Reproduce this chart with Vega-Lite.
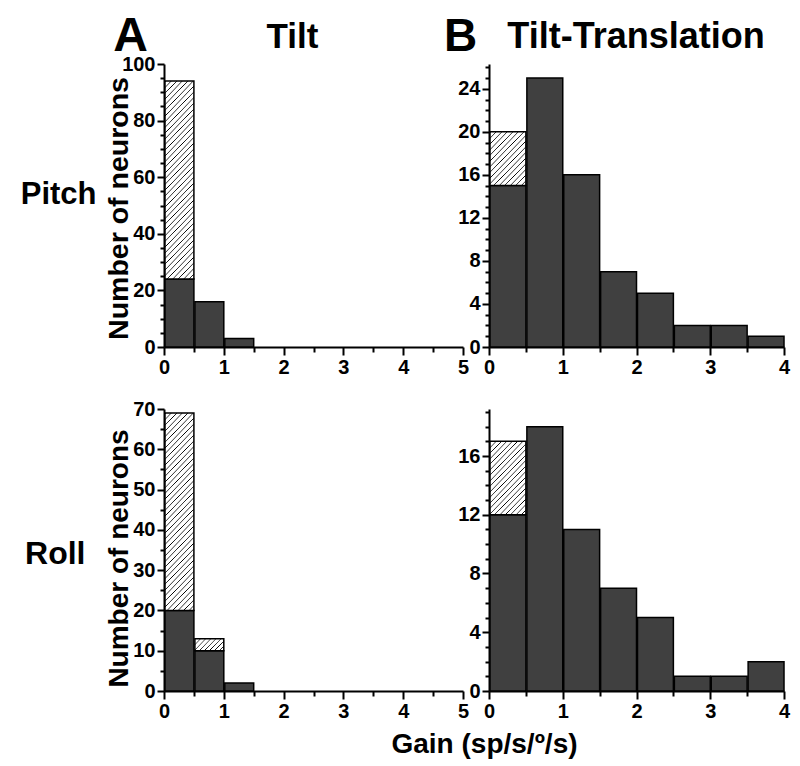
{
"$schema": "https://vega.github.io/schema/vega-lite/v6.json",
"padding": {"left": 20, "top": 12, "right": 10, "bottom": 6},
"background": "white",
"config": {
  "view": {"stroke": null},
  "font": "Liberation Sans",
  "axis": {"domainColor": "black", "domainWidth": 2, "tickColor": "black", "tickWidth": 2, "labelFontSize": 20, "labelFontWeight": "bold", "labelColor": "black", "labelFont": "Liberation Sans", "titleFont": "Liberation Sans", "titleFontWeight": "bold", "titleColor": "black", "grid": false, "labelOverlap": false, "labelPadding": 2, "labelFlush": false, "labelBound": false}
},
"datasets": {
  "tl": [{"start":0,"end":0.5,"count":24,"type":"dark"},{"start":0,"end":0.5,"count":70,"type":"hatched"},{"start":0.5,"end":1,"count":16,"type":"dark"},{"start":1,"end":1.5,"count":3,"type":"dark"}],
  "tr": [{"start":0,"end":0.5,"count":15,"type":"dark"},{"start":0,"end":0.5,"count":5,"type":"hatched"},{"start":0.5,"end":1,"count":25,"type":"dark"},{"start":1,"end":1.5,"count":16,"type":"dark"},{"start":1.5,"end":2,"count":7,"type":"dark"},{"start":2,"end":2.5,"count":5,"type":"dark"},{"start":2.5,"end":3,"count":2,"type":"dark"},{"start":3,"end":3.5,"count":2,"type":"dark"},{"start":3.5,"end":4,"count":1,"type":"dark"}],
  "bl": [{"start":0,"end":0.5,"count":20,"type":"dark"},{"start":0,"end":0.5,"count":49,"type":"hatched"},{"start":0.5,"end":1,"count":10,"type":"dark"},{"start":0.5,"end":1,"count":3,"type":"hatched"},{"start":1,"end":1.5,"count":2,"type":"dark"}],
  "br": [{"start":0,"end":0.5,"count":12,"type":"dark"},{"start":0,"end":0.5,"count":5,"type":"hatched"},{"start":0.5,"end":1,"count":18,"type":"dark"},{"start":1,"end":1.5,"count":11,"type":"dark"},{"start":1.5,"end":2,"count":7,"type":"dark"},{"start":2,"end":2.5,"count":5,"type":"dark"},{"start":2.5,"end":3,"count":1,"type":"dark"},{"start":3,"end":3.5,"count":1,"type":"dark"},{"start":3.5,"end":4,"count":2,"type":"dark"}]
},
"columns": 2,
"spacing": {"row": 62, "column": 26},
"bounds": "flush",
"concat": [
{
  "width": 299, "height": 283,
  "data": {"name": "tl"},
  "title": {"text": "Tilt", "fontSize": 35, "fontWeight": "bold", "font": "Liberation Sans", "color": "black", "frame": "group", "anchor": "middle", "dx": -21, "offset": -29, "baseline": "alphabetic"},
  "mark": {"type": "bar", "stroke": "black", "strokeWidth": 1.5},
  "encoding": {
    "x": {"field": "start", "type": "quantitative", "bin": "binned", "scale": {"domain": [0, 5], "nice": false},
      "axis": {"values": [0,0.5,1,1.5,2,2.5,3,3.5,4,4.5,5], "labelExpr": "datum.value % 1 === 0 ? format(datum.value, 'd') : ''", "tickSize": {"condition": {"test": "datum.value % 1 === 0", "value": 8}, "value": 5},
        "title": "Pitch", "titleX": -68, "titleY": -144, "titleAngle": 0, "titleAlign": "right", "titleBaseline": "alphabetic", "titleFontSize": 31}},
    "x2": {"field": "end"},
    "y": {"field": "count", "type": "quantitative", "stack": "zero", "scale": {"domain": [0, 100], "nice": false},
      "axis": {"values": [0,5,10,15,20,25,30,35,40,45,50,55,60,65,70,75,80,85,90,95,100], "labelExpr": "datum.value % 20 === 0 ? datum.label : ''", "tickSize": {"condition": {"test": "datum.value % 20 === 0", "value": 7}, "value": 4},
        "title": "Number of neurons", "titleX": -37, "titleY": 144, "titleAngle": 270, "titleAlign": "center", "titleBaseline": "alphabetic", "titleFontSize": 28.5}},
    "order": {"field": "type", "type": "ordinal", "sort": "ascending"},
    "fill": {"condition": {"test": "datum.type === 'hatched'", "value": {"gradient": "linear", "x1": 0, "y1": 0, "x2": 0.17, "y2": 1.125, "stops": [
{"offset":0,"color":"#fff"},{"offset":0.00375,"color":"#000"},{"offset":0.0075,"color":"#fff"},
{"offset":0.025,"color":"#fff"},{"offset":0.02875,"color":"#000"},{"offset":0.0325,"color":"#fff"},
{"offset":0.05,"color":"#fff"},{"offset":0.05375,"color":"#000"},{"offset":0.0575,"color":"#fff"},
{"offset":0.075,"color":"#fff"},{"offset":0.07875,"color":"#000"},{"offset":0.0825,"color":"#fff"},
{"offset":0.1,"color":"#fff"},{"offset":0.10375,"color":"#000"},{"offset":0.1075,"color":"#fff"},
{"offset":0.125,"color":"#fff"},{"offset":0.12875,"color":"#000"},{"offset":0.1325,"color":"#fff"},
{"offset":0.15,"color":"#fff"},{"offset":0.15375,"color":"#000"},{"offset":0.1575,"color":"#fff"},
{"offset":0.175,"color":"#fff"},{"offset":0.17875,"color":"#000"},{"offset":0.1825,"color":"#fff"},
{"offset":0.2,"color":"#fff"},{"offset":0.20375,"color":"#000"},{"offset":0.2075,"color":"#fff"},
{"offset":0.225,"color":"#fff"},{"offset":0.22875,"color":"#000"},{"offset":0.2325,"color":"#fff"},
{"offset":0.25,"color":"#fff"},{"offset":0.25375,"color":"#000"},{"offset":0.2575,"color":"#fff"},
{"offset":0.275,"color":"#fff"},{"offset":0.27875,"color":"#000"},{"offset":0.2825,"color":"#fff"},
{"offset":0.3,"color":"#fff"},{"offset":0.30375,"color":"#000"},{"offset":0.3075,"color":"#fff"},
{"offset":0.325,"color":"#fff"},{"offset":0.32875,"color":"#000"},{"offset":0.3325,"color":"#fff"},
{"offset":0.35,"color":"#fff"},{"offset":0.35375,"color":"#000"},{"offset":0.3575,"color":"#fff"},
{"offset":0.375,"color":"#fff"},{"offset":0.37875,"color":"#000"},{"offset":0.3825,"color":"#fff"},
{"offset":0.4,"color":"#fff"},{"offset":0.40375,"color":"#000"},{"offset":0.4075,"color":"#fff"},
{"offset":0.425,"color":"#fff"},{"offset":0.42875,"color":"#000"},{"offset":0.4325,"color":"#fff"},
{"offset":0.45,"color":"#fff"},{"offset":0.45375,"color":"#000"},{"offset":0.4575,"color":"#fff"},
{"offset":0.475,"color":"#fff"},{"offset":0.47875,"color":"#000"},{"offset":0.4825,"color":"#fff"},
{"offset":0.5,"color":"#fff"},{"offset":0.50375,"color":"#000"},{"offset":0.5075,"color":"#fff"},
{"offset":0.525,"color":"#fff"},{"offset":0.52875,"color":"#000"},{"offset":0.5325,"color":"#fff"},
{"offset":0.55,"color":"#fff"},{"offset":0.55375,"color":"#000"},{"offset":0.5575,"color":"#fff"},
{"offset":0.575,"color":"#fff"},{"offset":0.57875,"color":"#000"},{"offset":0.5825,"color":"#fff"},
{"offset":0.6,"color":"#fff"},{"offset":0.60375,"color":"#000"},{"offset":0.6075,"color":"#fff"},
{"offset":0.625,"color":"#fff"},{"offset":0.62875,"color":"#000"},{"offset":0.6325,"color":"#fff"},
{"offset":0.65,"color":"#fff"},{"offset":0.65375,"color":"#000"},{"offset":0.6575,"color":"#fff"},
{"offset":0.675,"color":"#fff"},{"offset":0.67875,"color":"#000"},{"offset":0.6825,"color":"#fff"},
{"offset":0.7,"color":"#fff"},{"offset":0.70375,"color":"#000"},{"offset":0.7075,"color":"#fff"},
{"offset":0.725,"color":"#fff"},{"offset":0.72875,"color":"#000"},{"offset":0.7325,"color":"#fff"},
{"offset":0.75,"color":"#fff"},{"offset":0.75375,"color":"#000"},{"offset":0.7575,"color":"#fff"},
{"offset":0.775,"color":"#fff"},{"offset":0.77875,"color":"#000"},{"offset":0.7825,"color":"#fff"},
{"offset":0.8,"color":"#fff"},{"offset":0.80375,"color":"#000"},{"offset":0.8075,"color":"#fff"},
{"offset":0.825,"color":"#fff"},{"offset":0.82875,"color":"#000"},{"offset":0.8325,"color":"#fff"},
{"offset":0.85,"color":"#fff"},{"offset":0.85375,"color":"#000"},{"offset":0.8575,"color":"#fff"},
{"offset":0.875,"color":"#fff"},{"offset":0.87875,"color":"#000"},{"offset":0.8825,"color":"#fff"},
{"offset":0.9,"color":"#fff"},{"offset":0.90375,"color":"#000"},{"offset":0.9075,"color":"#fff"},
{"offset":0.925,"color":"#fff"},{"offset":0.92875,"color":"#000"},{"offset":0.9325,"color":"#fff"},
{"offset":0.95,"color":"#fff"},{"offset":0.95375,"color":"#000"},{"offset":0.9575,"color":"#fff"},
{"offset":0.975,"color":"#fff"},{"offset":0.97875,"color":"#000"},{"offset":0.9825,"color":"#fff"},
{"offset":1,"color":"#fff"}]}}, "value": "#404040"}
  }
},
{
  "width": 295, "height": 283,
  "data": {"name": "tr"},
  "mark": {"type": "bar", "stroke": "black", "strokeWidth": 1.5},
  "encoding": {
    "x": {"field": "start", "type": "quantitative", "bin": "binned", "scale": {"domain": [0, 4], "nice": false},
      "axis": {"values": [0,0.5,1,1.5,2,2.5,3,3.5,4], "labelExpr": "datum.value % 1 === 0 ? format(datum.value, 'd') : ''", "tickSize": {"condition": {"test": "datum.value % 1 === 0", "value": 8}, "value": 5},
        "title": "Tilt-Translation", "titleX": 146.5, "titleY": -300, "titleAngle": 0, "titleAlign": "center", "titleBaseline": "alphabetic", "titleFontSize": 36}},
    "x2": {"field": "end"},
    "y": {"field": "count", "type": "quantitative", "stack": "zero", "scale": {"domain": [0, 26.3], "nice": false},
      "axis": {"values": [0,1,2,3,4,5,6,7,8,9,10,11,12,13,14,15,16,17,18,19,20,21,22,23,24,25,26], "labelExpr": "datum.value % 4 === 0 ? datum.label : ''", "tickSize": {"condition": {"test": "datum.value % 4 === 0", "value": 7}, "value": 4},
        "title": "B", "titleX": -29, "titleY": -14, "titleAngle": 0, "titleAlign": "center", "titleBaseline": "alphabetic", "titleFontSize": 46}},
    "order": {"field": "type", "type": "ordinal", "sort": "ascending"},
    "fill": {"condition": {"test": "datum.type === 'hatched'", "value": {"gradient": "linear", "x1": 0, "y1": 0, "x2": 0.786, "y2": 1.147, "stops": [
{"offset":0,"color":"#fff"},{"offset":0.009375,"color":"#000"},{"offset":0.01875,"color":"#fff"},
{"offset":0.0625,"color":"#fff"},{"offset":0.071875,"color":"#000"},{"offset":0.08125,"color":"#fff"},
{"offset":0.125,"color":"#fff"},{"offset":0.134375,"color":"#000"},{"offset":0.14375,"color":"#fff"},
{"offset":0.1875,"color":"#fff"},{"offset":0.196875,"color":"#000"},{"offset":0.20625,"color":"#fff"},
{"offset":0.25,"color":"#fff"},{"offset":0.259375,"color":"#000"},{"offset":0.26875,"color":"#fff"},
{"offset":0.3125,"color":"#fff"},{"offset":0.321875,"color":"#000"},{"offset":0.33125,"color":"#fff"},
{"offset":0.375,"color":"#fff"},{"offset":0.384375,"color":"#000"},{"offset":0.39375,"color":"#fff"},
{"offset":0.4375,"color":"#fff"},{"offset":0.446875,"color":"#000"},{"offset":0.45625,"color":"#fff"},
{"offset":0.5,"color":"#fff"},{"offset":0.509375,"color":"#000"},{"offset":0.51875,"color":"#fff"},
{"offset":0.5625,"color":"#fff"},{"offset":0.571875,"color":"#000"},{"offset":0.58125,"color":"#fff"},
{"offset":0.625,"color":"#fff"},{"offset":0.634375,"color":"#000"},{"offset":0.64375,"color":"#fff"},
{"offset":0.6875,"color":"#fff"},{"offset":0.696875,"color":"#000"},{"offset":0.70625,"color":"#fff"},
{"offset":0.75,"color":"#fff"},{"offset":0.759375,"color":"#000"},{"offset":0.76875,"color":"#fff"},
{"offset":0.8125,"color":"#fff"},{"offset":0.821875,"color":"#000"},{"offset":0.83125,"color":"#fff"},
{"offset":0.875,"color":"#fff"},{"offset":0.884375,"color":"#000"},{"offset":0.89375,"color":"#fff"},
{"offset":0.9375,"color":"#fff"},{"offset":0.946875,"color":"#000"},{"offset":0.95625,"color":"#fff"},
{"offset":1,"color":"#fff"}]}}, "value": "#404040"}
  }
},
{
  "width": 299, "height": 282,
  "data": {"name": "bl"},
  "mark": {"type": "bar", "stroke": "black", "strokeWidth": 1.5},
  "encoding": {
    "x": {"field": "start", "type": "quantitative", "bin": "binned", "scale": {"domain": [0, 5], "nice": false},
      "axis": {"values": [0,0.5,1,1.5,2,2.5,3,3.5,4,4.5,5], "labelExpr": "datum.value % 1 === 0 ? format(datum.value, 'd') : ''", "tickSize": {"condition": {"test": "datum.value % 1 === 0", "value": 8}, "value": 5},
        "title": "Roll", "titleX": -79, "titleY": -128, "titleAngle": 0, "titleAlign": "right", "titleBaseline": "alphabetic", "titleFontSize": 32}},
    "x2": {"field": "end"},
    "y": {"field": "count", "type": "quantitative", "stack": "zero", "scale": {"domain": [0, 70], "nice": false},
      "axis": {"values": [0,5,10,15,20,25,30,35,40,45,50,55,60,65,70], "labelExpr": "datum.value % 10 === 0 ? datum.label : ''", "tickSize": {"condition": {"test": "datum.value % 10 === 0", "value": 7}, "value": 4},
        "title": "Number of neurons", "titleX": -37, "titleY": 149, "titleAngle": 270, "titleAlign": "center", "titleBaseline": "alphabetic", "titleFontSize": 28}},
    "order": {"field": "type", "type": "ordinal", "sort": "ascending"},
    "fill": {"condition": [
      {"test": "datum.type === 'hatched' && datum.start === 0", "value": {"gradient": "linear", "x1": 0, "y1": 0, "x2": 0.17, "y2": 1.125, "stops": [
{"offset":0,"color":"#fff"},{"offset":0.00375,"color":"#000"},{"offset":0.0075,"color":"#fff"},
{"offset":0.025,"color":"#fff"},{"offset":0.02875,"color":"#000"},{"offset":0.0325,"color":"#fff"},
{"offset":0.05,"color":"#fff"},{"offset":0.05375,"color":"#000"},{"offset":0.0575,"color":"#fff"},
{"offset":0.075,"color":"#fff"},{"offset":0.07875,"color":"#000"},{"offset":0.0825,"color":"#fff"},
{"offset":0.1,"color":"#fff"},{"offset":0.10375,"color":"#000"},{"offset":0.1075,"color":"#fff"},
{"offset":0.125,"color":"#fff"},{"offset":0.12875,"color":"#000"},{"offset":0.1325,"color":"#fff"},
{"offset":0.15,"color":"#fff"},{"offset":0.15375,"color":"#000"},{"offset":0.1575,"color":"#fff"},
{"offset":0.175,"color":"#fff"},{"offset":0.17875,"color":"#000"},{"offset":0.1825,"color":"#fff"},
{"offset":0.2,"color":"#fff"},{"offset":0.20375,"color":"#000"},{"offset":0.2075,"color":"#fff"},
{"offset":0.225,"color":"#fff"},{"offset":0.22875,"color":"#000"},{"offset":0.2325,"color":"#fff"},
{"offset":0.25,"color":"#fff"},{"offset":0.25375,"color":"#000"},{"offset":0.2575,"color":"#fff"},
{"offset":0.275,"color":"#fff"},{"offset":0.27875,"color":"#000"},{"offset":0.2825,"color":"#fff"},
{"offset":0.3,"color":"#fff"},{"offset":0.30375,"color":"#000"},{"offset":0.3075,"color":"#fff"},
{"offset":0.325,"color":"#fff"},{"offset":0.32875,"color":"#000"},{"offset":0.3325,"color":"#fff"},
{"offset":0.35,"color":"#fff"},{"offset":0.35375,"color":"#000"},{"offset":0.3575,"color":"#fff"},
{"offset":0.375,"color":"#fff"},{"offset":0.37875,"color":"#000"},{"offset":0.3825,"color":"#fff"},
{"offset":0.4,"color":"#fff"},{"offset":0.40375,"color":"#000"},{"offset":0.4075,"color":"#fff"},
{"offset":0.425,"color":"#fff"},{"offset":0.42875,"color":"#000"},{"offset":0.4325,"color":"#fff"},
{"offset":0.45,"color":"#fff"},{"offset":0.45375,"color":"#000"},{"offset":0.4575,"color":"#fff"},
{"offset":0.475,"color":"#fff"},{"offset":0.47875,"color":"#000"},{"offset":0.4825,"color":"#fff"},
{"offset":0.5,"color":"#fff"},{"offset":0.50375,"color":"#000"},{"offset":0.5075,"color":"#fff"},
{"offset":0.525,"color":"#fff"},{"offset":0.52875,"color":"#000"},{"offset":0.5325,"color":"#fff"},
{"offset":0.55,"color":"#fff"},{"offset":0.55375,"color":"#000"},{"offset":0.5575,"color":"#fff"},
{"offset":0.575,"color":"#fff"},{"offset":0.57875,"color":"#000"},{"offset":0.5825,"color":"#fff"},
{"offset":0.6,"color":"#fff"},{"offset":0.60375,"color":"#000"},{"offset":0.6075,"color":"#fff"},
{"offset":0.625,"color":"#fff"},{"offset":0.62875,"color":"#000"},{"offset":0.6325,"color":"#fff"},
{"offset":0.65,"color":"#fff"},{"offset":0.65375,"color":"#000"},{"offset":0.6575,"color":"#fff"},
{"offset":0.675,"color":"#fff"},{"offset":0.67875,"color":"#000"},{"offset":0.6825,"color":"#fff"},
{"offset":0.7,"color":"#fff"},{"offset":0.70375,"color":"#000"},{"offset":0.7075,"color":"#fff"},
{"offset":0.725,"color":"#fff"},{"offset":0.72875,"color":"#000"},{"offset":0.7325,"color":"#fff"},
{"offset":0.75,"color":"#fff"},{"offset":0.75375,"color":"#000"},{"offset":0.7575,"color":"#fff"},
{"offset":0.775,"color":"#fff"},{"offset":0.77875,"color":"#000"},{"offset":0.7825,"color":"#fff"},
{"offset":0.8,"color":"#fff"},{"offset":0.80375,"color":"#000"},{"offset":0.8075,"color":"#fff"},
{"offset":0.825,"color":"#fff"},{"offset":0.82875,"color":"#000"},{"offset":0.8325,"color":"#fff"},
{"offset":0.85,"color":"#fff"},{"offset":0.85375,"color":"#000"},{"offset":0.8575,"color":"#fff"},
{"offset":0.875,"color":"#fff"},{"offset":0.87875,"color":"#000"},{"offset":0.8825,"color":"#fff"},
{"offset":0.9,"color":"#fff"},{"offset":0.90375,"color":"#000"},{"offset":0.9075,"color":"#fff"},
{"offset":0.925,"color":"#fff"},{"offset":0.92875,"color":"#000"},{"offset":0.9325,"color":"#fff"},
{"offset":0.95,"color":"#fff"},{"offset":0.95375,"color":"#000"},{"offset":0.9575,"color":"#fff"},
{"offset":0.975,"color":"#fff"},{"offset":0.97875,"color":"#000"},{"offset":0.9825,"color":"#fff"},
{"offset":1,"color":"#fff"}]}},
      {"test": "datum.type === 'hatched'", "value": {"gradient": "linear", "x1": 0, "y1": 0, "x2": 1.207, "y2": 0.488, "stops": [
{"offset":0,"color":"#fff"},{"offset":0.01875,"color":"#000"},{"offset":0.0375,"color":"#fff"},
{"offset":0.125,"color":"#fff"},{"offset":0.14375,"color":"#000"},{"offset":0.1625,"color":"#fff"},
{"offset":0.25,"color":"#fff"},{"offset":0.26875,"color":"#000"},{"offset":0.2875,"color":"#fff"},
{"offset":0.375,"color":"#fff"},{"offset":0.39375,"color":"#000"},{"offset":0.4125,"color":"#fff"},
{"offset":0.5,"color":"#fff"},{"offset":0.51875,"color":"#000"},{"offset":0.5375,"color":"#fff"},
{"offset":0.625,"color":"#fff"},{"offset":0.64375,"color":"#000"},{"offset":0.6625,"color":"#fff"},
{"offset":0.75,"color":"#fff"},{"offset":0.76875,"color":"#000"},{"offset":0.7875,"color":"#fff"},
{"offset":0.875,"color":"#fff"},{"offset":0.89375,"color":"#000"},{"offset":0.9125,"color":"#fff"},
{"offset":1,"color":"#fff"}]}}
    ], "value": "#404040"}
  }
},
{
  "width": 295, "height": 282,
  "data": {"name": "br"},
  "mark": {"type": "bar", "stroke": "black", "strokeWidth": 1.5},
  "encoding": {
    "x": {"field": "start", "type": "quantitative", "bin": "binned", "scale": {"domain": [0, 4], "nice": false},
      "axis": {"values": [0,0.5,1,1.5,2,2.5,3,3.5,4], "labelExpr": "datum.value % 1 === 0 ? format(datum.value, 'd') : ''", "tickSize": {"condition": {"test": "datum.value % 1 === 0", "value": 8}, "value": 5},
        "title": "Gain (sp/s/º/s)", "titleX": -5, "titleY": 61, "titleAngle": 0, "titleAlign": "center", "titleBaseline": "alphabetic", "titleFontSize": 28}},
    "x2": {"field": "end"},
    "y": {"field": "count", "type": "quantitative", "stack": "zero", "scale": {"domain": [0, 19.2], "nice": false},
      "axis": {"values": [0,1,2,3,4,5,6,7,8,9,10,11,12,13,14,15,16,17,18,19], "labelExpr": "datum.value % 4 === 0 ? datum.label : ''", "tickSize": {"condition": {"test": "datum.value % 4 === 0", "value": 7}, "value": 4},
        "title": "A", "titleX": -359, "titleY": -359, "titleAngle": 0, "titleAlign": "center", "titleBaseline": "alphabetic", "titleFontSize": 48}},
    "order": {"field": "type", "type": "ordinal", "sort": "ascending"},
    "fill": {"condition": {"test": "datum.type === 'hatched'", "value": {"gradient": "linear", "x1": 0, "y1": 0, "x2": 0.603, "y2": 1.2, "stops": [
{"offset":0,"color":"#fff"},{"offset":0.0075,"color":"#000"},{"offset":0.015,"color":"#fff"},
{"offset":0.05,"color":"#fff"},{"offset":0.0575,"color":"#000"},{"offset":0.065,"color":"#fff"},
{"offset":0.1,"color":"#fff"},{"offset":0.1075,"color":"#000"},{"offset":0.115,"color":"#fff"},
{"offset":0.15,"color":"#fff"},{"offset":0.1575,"color":"#000"},{"offset":0.165,"color":"#fff"},
{"offset":0.2,"color":"#fff"},{"offset":0.2075,"color":"#000"},{"offset":0.215,"color":"#fff"},
{"offset":0.25,"color":"#fff"},{"offset":0.2575,"color":"#000"},{"offset":0.265,"color":"#fff"},
{"offset":0.3,"color":"#fff"},{"offset":0.3075,"color":"#000"},{"offset":0.315,"color":"#fff"},
{"offset":0.35,"color":"#fff"},{"offset":0.3575,"color":"#000"},{"offset":0.365,"color":"#fff"},
{"offset":0.4,"color":"#fff"},{"offset":0.4075,"color":"#000"},{"offset":0.415,"color":"#fff"},
{"offset":0.45,"color":"#fff"},{"offset":0.4575,"color":"#000"},{"offset":0.465,"color":"#fff"},
{"offset":0.5,"color":"#fff"},{"offset":0.5075,"color":"#000"},{"offset":0.515,"color":"#fff"},
{"offset":0.55,"color":"#fff"},{"offset":0.5575,"color":"#000"},{"offset":0.565,"color":"#fff"},
{"offset":0.6,"color":"#fff"},{"offset":0.6075,"color":"#000"},{"offset":0.615,"color":"#fff"},
{"offset":0.65,"color":"#fff"},{"offset":0.6575,"color":"#000"},{"offset":0.665,"color":"#fff"},
{"offset":0.7,"color":"#fff"},{"offset":0.7075,"color":"#000"},{"offset":0.715,"color":"#fff"},
{"offset":0.75,"color":"#fff"},{"offset":0.7575,"color":"#000"},{"offset":0.765,"color":"#fff"},
{"offset":0.8,"color":"#fff"},{"offset":0.8075,"color":"#000"},{"offset":0.815,"color":"#fff"},
{"offset":0.85,"color":"#fff"},{"offset":0.8575,"color":"#000"},{"offset":0.865,"color":"#fff"},
{"offset":0.9,"color":"#fff"},{"offset":0.9075,"color":"#000"},{"offset":0.915,"color":"#fff"},
{"offset":0.95,"color":"#fff"},{"offset":0.9575,"color":"#000"},{"offset":0.965,"color":"#fff"},
{"offset":1,"color":"#fff"}]}}, "value": "#404040"}
  }
}
]
}
